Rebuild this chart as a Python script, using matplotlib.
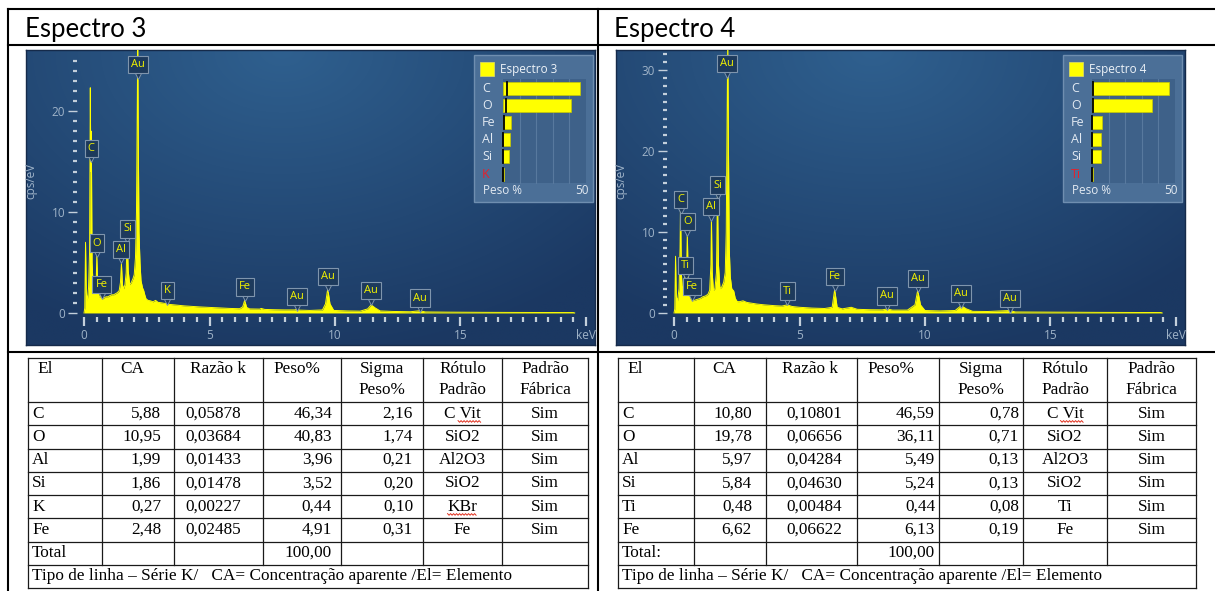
from __future__ import annotations

import matplotlib

matplotlib.use("Agg")
import matplotlib.pyplot as plt
import numpy as np
from matplotlib.patches import Rectangle
from matplotlib.ticker import FixedLocator, MultipleLocator

W, H = 1215, 591

# ---------------- data ----------------
spec3_kev = [0.00, 0.03, 0.06, 0.09, 0.13, 0.18, 0.22, 0.25, 0.27, 0.29, 0.32, 0.36, 0.42,
             0.48, 0.51, 0.54, 0.60, 0.66, 0.70, 0.74, 0.80, 0.88, 0.95, 1.02, 1.10, 1.18,
             1.25, 1.32, 1.40, 1.45, 1.49, 1.53, 1.58, 1.63, 1.68, 1.72, 1.76, 1.82, 1.88,
             1.95, 2.00, 2.05, 2.09, 2.12, 2.14, 2.16, 2.19, 2.23, 2.27, 2.33, 2.38, 2.42,
             2.47, 2.55, 2.65, 2.75, 2.85, 2.95, 3.10, 3.20, 3.31, 3.40, 3.60, 3.80, 4.00,
             4.30, 4.60, 5.00, 5.40, 5.80, 6.20, 6.32, 6.40, 6.48, 6.60, 7.00, 7.06, 7.20,
             7.60, 8.00, 8.40, 8.49, 8.60, 9.00, 9.50, 9.62, 9.71, 9.80, 9.95, 10.5, 11.0,
             11.3, 11.44, 11.6, 11.8, 12.3, 13.0, 13.38, 13.6, 14.5, 16.0, 17.5, 19.5, 19.55]
spec3_cps = [0.0, 0.5, 7.0, 2.0, 1.2, 2.5, 6.0, 22.3, 14.0, 18.0, 5.0, 2.8, 2.0,
             2.5, 5.9, 3.0, 1.6, 1.6, 2.0, 1.4, 1.5, 1.6, 1.6, 1.7, 1.8, 1.8,
             1.9, 2.0, 2.2, 3.0, 4.9, 2.8, 2.4, 2.8, 4.0, 7.6, 4.2, 2.8, 3.0,
             3.4, 3.8, 5.5, 10.0, 20.0, 27.0, 18.0, 8.0, 5.0, 3.2, 2.5, 2.2, 1.8,
             1.4, 1.25, 1.2, 1.1, 1.25, 1.05, 1.0, 0.95, 0.95, 0.85, 0.8, 0.75, 0.7,
             0.65, 0.6, 0.55, 0.5, 0.45, 0.42, 0.6, 1.25, 0.55, 0.4, 0.38, 0.45, 0.35,
             0.32, 0.3, 0.3, 0.38, 0.28, 0.25, 0.3, 0.9, 2.4, 0.9, 0.25, 0.2, 0.18,
             0.4, 0.8, 0.5, 0.2, 0.15, 0.12, 0.22, 0.1, 0.08, 0.06, 0.05, 0.04, 0.0]
spec3_tags = ["Au", "C", "O", "Al", "Si", "Fe", "K", "Fe", "Au", "Au", "Au", "Au"]
spec3_tag_kev = [2.14, 0.28, 0.52, 1.48, 1.73, 0.70, 3.32, 6.40, 8.47, 9.71, 11.44, 13.38]
spec3_tag_cps = [23.5, 15.2, 5.8, 5.2, 7.2, 1.7, 1.1, 1.45, 0.5, 2.5, 1.1, 0.35]

spec4_kev = [0.00, 0.03, 0.06, 0.09, 0.14, 0.20, 0.24, 0.26, 0.29, 0.33, 0.40, 0.46, 0.49,
             0.53, 0.57, 0.63, 0.71, 0.76, 0.85, 0.95, 1.05, 1.15, 1.25, 1.35, 1.42, 1.47,
             1.49, 1.52, 1.57, 1.63, 1.69, 1.73, 1.77, 1.83, 1.90, 1.98, 2.04, 2.08, 2.11,
             2.14, 2.17, 2.20, 2.24, 2.30, 2.38, 2.44, 2.52, 2.62, 2.75, 2.90, 3.10, 3.30,
             3.60, 4.00, 4.30, 4.51, 4.70, 5.00, 5.50, 6.00, 6.30, 6.40, 6.50, 6.70, 7.06,
             7.30, 7.80, 8.30, 8.50, 8.70, 9.30, 9.60, 9.71, 9.82, 10.0, 10.6, 11.2, 11.44,
             11.65, 11.9, 12.5, 13.38, 13.6, 15.0, 17.0, 19.4, 19.45]
spec4_cps = [0.0, 0.5, 7.0, 2.0, 1.5, 3.0, 8.0, 14.0, 5.0, 3.0, 3.5, 6.2, 3.5,
             9.9, 3.0, 1.8, 2.3, 1.5, 1.6, 1.7, 1.8, 2.0, 2.1, 2.3, 2.8, 6.0,
             11.8, 5.0, 2.8, 3.0, 5.0, 14.6, 6.0, 3.0, 3.2, 3.8, 5.0, 10.0, 22.0,
             34.0, 20.0, 8.0, 4.5, 3.0, 2.7, 1.8, 1.4, 1.4, 1.5, 1.3, 1.2, 1.1,
             1.0, 0.9, 0.85, 1.0, 0.8, 0.7, 0.6, 0.55, 0.7, 2.9, 0.7, 0.5, 0.7,
             0.45, 0.4, 0.38, 0.5, 0.35, 0.35, 1.0, 2.8, 1.0, 0.3, 0.25, 0.3, 0.9,
             0.5, 0.2, 0.18, 0.3, 0.12, 0.1, 0.07, 0.05, 0.0]
spec4_tags = ["Au", "C", "O", "Al", "Si", "Ti", "Fe", "Ti", "Fe", "Au", "Au", "Au", "Au"]
spec4_tag_kev = [2.12, 0.26, 0.53, 1.47, 1.74, 0.46, 0.71, 4.51, 6.40, 8.50, 9.72, 11.44, 13.38]
spec4_tag_cps = [29.4, 12.6, 9.9, 11.7, 14.4, 4.5, 1.9, 1.3, 3.1, 0.7, 2.9, 1.0, 0.4]

tab3_el = ["C", "O", "Al", "Si", "K", "Fe"]
tab3_ca = [5.88, 10.95, 1.99, 1.86, 0.27, 2.48]
tab3_kratio = [0.05878, 0.03684, 0.01433, 0.01478, 0.00227, 0.02485]
tab3_wt = [46.34, 40.83, 3.96, 3.52, 0.44, 4.91]
tab3_sigma = [2.16, 1.74, 0.21, 0.20, 0.10, 0.31]
tab3_std = ["C Vit", "SiO2", "Al2O3", "SiO2", "KBr", "Fe"]

tab4_el = ["C", "O", "Al", "Si", "Ti", "Fe"]
tab4_ca = [10.80, 19.78, 5.97, 5.84, 0.48, 6.62]
tab4_kratio = [0.10801, 0.06656, 0.04284, 0.04630, 0.00484, 0.06622]
tab4_wt = [46.59, 36.11, 5.49, 5.24, 0.44, 6.13]
tab4_sigma = [0.78, 0.71, 0.13, 0.13, 0.08, 0.19]
tab4_std = ["C Vit", "SiO2", "Al2O3", "SiO2", "Ti", "Fe"]

header = [["El"], ["CA"], ["Razão k"], ["Peso%"], ["Sigma", "Peso%"], ["Rótulo", "Padrão"], ["Padrão", "Fábrica"]]
footer = "Tipo de linha – Série K/   CA= Concentração aparente /El= Elemento"

# ---------------- styling ----------------
PANEL_FONT = "Open Sans"
TABLE_FONT = "Liberation Serif"
YELLOW = "#ffff00"
TICK_COL = "#c3cfdb"
LABEL_COL = "#9fb3c8"

fig = plt.figure(figsize=(W / 100, H / 100), dpi=100)


def px_axes(x0, y0, x1, y1):
    return fig.add_axes([x0 / W, 1 - y1 / H, (x1 - x0) / W, (y1 - y0) / H])


def comma(v, nd=2):
    return f"{v:.{nd}f}".replace(".", ",")


def draw_panel(x0, y0, x1, y1):
    pax = px_axes(x0, y0, x1, y1)
    gx, gy = np.meshgrid(np.linspace(0, 1, 240), np.linspace(0, 1, 140))
    t = np.clip(np.hypot((gx - 0.45) / 0.8, gy / 1.05), 0, 1)[..., None]
    light = np.array([47, 96, 143]) / 255
    dark = np.array([27, 56, 98]) / 255
    pax.imshow(light * (1 - t) + dark * t, aspect="auto", interpolation="bilinear")
    pax.set_xticks([])
    pax.set_yticks([])
    for sp in pax.spines.values():
        sp.set_color("#152a4a")
        sp.set_linewidth(1.0)


def draw_spectrum(ax_box, kev, cps, ylim, ytop_tick, tags, tag_kev, tag_cps):
    x0, y0, x1, y1 = ax_box
    ax = px_axes(x0, y0, x1, y1)
    ax.patch.set_alpha(0)
    ax.fill_between(kev, cps, 0, color=YELLOW, lw=0, zorder=2)
    ax.plot(kev, cps, color=YELLOW, lw=0.7, zorder=2)
    ax.set_xlim(-0.28, 20.12)
    ax.set_ylim(*ylim)
    for sp in ax.spines.values():
        sp.set_visible(False)
    ax.set_xticks([0, 5, 10, 15, 20])
    ax.set_xticklabels(["0", "5", "10", "15", "keV"])
    ax.xaxis.set_minor_locator(MultipleLocator(0.5))
    ax.yaxis.set_major_locator(FixedLocator(list(range(0, ytop_tick + 1, 10))))
    ax.yaxis.set_minor_locator(FixedLocator(list(range(0, ytop_tick + 1))))
    ax.tick_params(axis="both", which="both", colors=TICK_COL, labelcolor=LABEL_COL,
                   labelsize=8.5, pad=2)
    ax.tick_params(axis="y", which="major", length=6.5, width=1.0)
    ax.tick_params(axis="y", which="minor", length=3.2, width=1.6)
    ax.tick_params(axis="x", which="major", length=6.5, width=1.6)
    ax.tick_params(axis="x", which="minor", length=3.6, width=1.6)
    for lab in ax.get_xticklabels() + ax.get_yticklabels():
        lab.set_family(PANEL_FONT)
    ax.set_ylabel("cps/eV", color=LABEL_COL, fontsize=8.5, family=PANEL_FONT)
    ax.yaxis.set_label_coords(-0.078, 0.51)

    for name, e, c in zip(tags, tag_kev, tag_cps):
        ax.plot([e], [c], marker="v", ms=5, mfc="#1d3a5c", mec="#7f95ad", mew=0.7, zorder=5,
                clip_on=False)
        ax.annotate(name, xy=(e, c), xytext=(0, 4.2), textcoords="offset points",
                    ha="center", va="bottom", fontsize=8, color="#f2f200",
                    family=PANEL_FONT, zorder=6,
                    bbox=dict(boxstyle="square,pad=0.28", fc="#1d3a5c", ec="#7f95ad", lw=0.8))
    return ax


def draw_legend(ax, x0, title, els, wt, sigma):
    y0 = 55
    ax.add_patch(Rectangle((x0, y0), 119, 147, fc="#4b6f97", ec="#6f8eb0", lw=1.0, zorder=3))
    ax.add_patch(Rectangle((x0 + 6, 62), 14, 14, fc=YELLOW, ec="#d8d860", lw=0.6, zorder=4))
    ax.text(x0 + 26, 69, title, fontsize=8.5, color="#eef3f8", va="center",
            family=PANEL_FONT, zorder=4)
    bx, bw = x0 + 29, 83
    ax.add_patch(Rectangle((bx, 79), bw, 104, fc="#3e6189", ec="none", zorder=4))
    for k in range(1, 5):
        gx = bx + k * bw / 5
        ax.plot([gx, gx], [79, 183], color="#58799e", lw=0.8, zorder=4)
    order = np.argsort(wt)[::-1]
    for row, i in enumerate(order):
        yc = 88 + row * 17.2
        col = "#e8202a" if row == len(order) - 1 else "#e3eaf2"
        ax.text(x0 + 8, yc, els[i], fontsize=9, color=col, va="center",
                family=PANEL_FONT, zorder=5)
        ax.add_patch(Rectangle((bx, yc - 6.5), wt[i] / 50 * bw, 13, fc=YELLOW,
                               ec="#c9c900", lw=0.5, zorder=5))
        sx = bx + sigma[i] / 50 * bw
        ax.plot([sx, sx], [yc - 6.5, yc + 6.5], color="black", lw=1.3, zorder=6)
    ax.text(x0 + 9, 190, "Peso %", fontsize=8.5, color="#e3eaf2", va="center",
            family=PANEL_FONT, zorder=5)
    ax.text(x0 + 115, 190, "50", fontsize=8.5, color="#e3eaf2", va="center", ha="right",
            family=PANEL_FONT, zorder=5)


def squiggle(ax, t, frac0):
    fig.canvas.draw()
    bb = t.get_window_extent(fig.canvas.get_renderer())
    inv = ax.transData.inverted()
    (xa, ya), (xb, yb) = inv.transform([[bb.x0, bb.y0], [bb.x1, bb.y1]])
    xs = np.arange(xa + frac0 * (xb - xa), xb, 1.5)
    base_y = max(ya, yb) - 1
    ys = base_y + np.where(np.arange(len(xs)) % 2 == 0, 0, 1.6)
    ax.plot(xs, ys, color="#e0301e", lw=0.7, zorder=6)


def draw_table(ax, cols, els, ca, kratio, wt, sigma, std, pads, total_label):
    top, head_bot, row_h = 358, 402, 23.25
    n = len(els) + 2
    bottom = head_bot + n * row_h
    lc, lw = "#1a1a1a", 0.9
    ax.plot([cols[0], cols[-1]], [top, top], color=lc, lw=lw)
    ax.plot([cols[0], cols[-1]], [head_bot, head_bot], color=lc, lw=lw)
    for r in range(1, n + 1):
        y = head_bot + r * row_h
        ax.plot([cols[0], cols[-1]], [y, y], color=lc, lw=lw)
    for c in (cols[0], cols[-1]):
        ax.plot([c, c], [top, bottom], color=lc, lw=lw)
    for c in cols[1:-1]:
        ax.plot([c, c], [top, bottom - row_h], color=lc, lw=lw)

    fs = 12.4
    kw = dict(fontsize=fs, family=TABLE_FONT, color="black", va="center")
    head_pad = [9, 18, 16, 10]
    for j, lines in enumerate(header):
        if j < 4:
            ax.text(cols[j] + head_pad[j], 369, lines[0], ha="left", **kw)
        else:
            xc = (cols[j] + cols[j + 1]) / 2
            ax.text(xc, 369, lines[0], ha="center", **kw)
            ax.text(xc, 390, lines[1], ha="center", **kw)

    std_texts = []
    for i in range(len(els)):
        yc = head_bot + (i + 0.5) * row_h
        ax.text(cols[0] + 4, yc, els[i], ha="left", **kw)
        ax.text(cols[2] - pads[0], yc, comma(ca[i]), ha="right", **kw)
        ax.text(cols[3] - pads[1], yc, comma(kratio[i], 5), ha="right", **kw)
        ax.text(cols[4] - pads[2], yc, comma(wt[i]), ha="right", **kw)
        ax.text(cols[5] - pads[3], yc, comma(sigma[i]), ha="right", **kw)
        t = ax.text((cols[5] + cols[6]) / 2, yc, std[i], ha="center", **kw)
        std_texts.append((std[i], t))
        ax.text((cols[6] + cols[7]) / 2, yc, "Sim", ha="center", **kw)
    yc = head_bot + (len(els) + 0.5) * row_h
    ax.text(cols[0] + 4, yc, total_label, ha="left", **kw)
    ax.text(cols[4] - pads[2], yc, comma(sum(wt)), ha="right", **kw)
    yc = head_bot + (len(els) + 1.5) * row_h
    ax.text(cols[0] + 4, yc, footer, ha="left", **kw)
    return std_texts


# ---------------- layout ----------------
draw_panel(26, 50, 595, 345)
draw_panel(616, 50, 1185, 345)

draw_spectrum((77, 50, 589, 317), spec3_kev, spec3_cps, (-0.4, 26.04), 25,
              spec3_tags, spec3_tag_kev, spec3_tag_cps)
draw_spectrum((667, 50, 1179, 317), spec4_kev, spec4_cps, (-0.5, 32.47), 32,
              spec4_tags, spec4_tag_kev, spec4_tag_cps)

base = fig.add_axes([0, 0, 1, 1])
base.set_zorder(10)
base.patch.set_alpha(0)
base.set_xlim(0, W)
base.set_ylim(H, 0)
base.axis("off")

frame_lw = 1.5
for y in (9, 45, 352):
    base.plot([8, W], [y, y], color="black", lw=frame_lw)
for x in (8, 598):
    base.plot([x, x], [9, H], color="black", lw=frame_lw)

base.text(25, 37, "Espectro 3", fontsize=18.5, family="Lato", va="baseline")
base.text(614, 37, "Espectro 4", fontsize=18.5, family="Lato", va="baseline")

draw_legend(base, 474, "Espectro 3", tab3_el, tab3_wt, tab3_sigma)
draw_legend(base, 1063, "Espectro 4", tab4_el, tab4_wt, tab4_sigma)

cols3 = [28, 102, 174, 263, 341, 423, 502, 588]
cols4 = [618, 694, 766, 857, 939, 1023, 1107, 1196]
s3 = draw_table(base, cols3, tab3_el, tab3_ca, tab3_kratio, tab3_wt, tab3_sigma, tab3_std,
                [13, 22, 9, 10], "Total")
s4 = draw_table(base, cols4, tab4_el, tab4_ca, tab4_kratio, tab4_wt, tab4_sigma, tab4_std,
                [14, 15, 4, 4], "Total:")

# spell-check marks under "Vit" and "KBr"
for name, t in s3 + s4:
    if name == "C Vit":
        squiggle(base, t, 0.38)
    elif name == "KBr":
        squiggle(base, t, 0.0)

fig.savefig("out.png", dpi=100)
